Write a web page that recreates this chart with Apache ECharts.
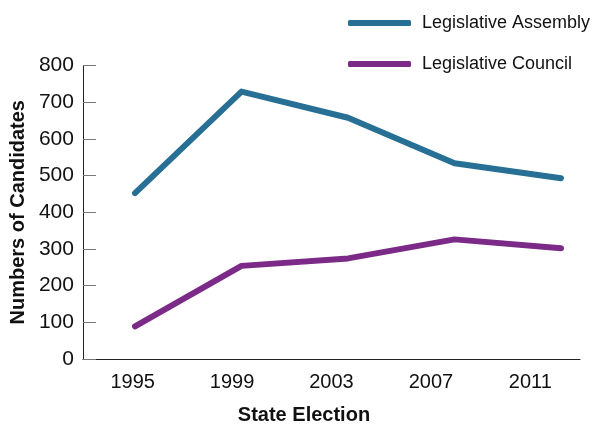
<!DOCTYPE html>
<html>
<head>
<meta charset="utf-8">
<script src="https://cdn.jsdelivr.net/npm/echarts@6/dist/echarts.min.js"></script>
<style>
  html, body { margin: 0; padding: 0; background: #fff; }
  #chart { width: 616px; height: 430px; }
</style>
</head>
<body>
<div id="chart"></div>
<script>
const years = ['1995', '1999', '2003', '2007', '2011']
const assembly = [458, 730, 660, 538, 498]
const council = [101, 263, 283, 334, 310]
const yTicks = { min: 0, max: 800, step: 100 }

const font = 'Liberation Sans, Arial, Helvetica, sans-serif'
const blue = '#276f95'
const purple = '#7c2a88'

const chart = echarts.init(document.getElementById('chart'))

chart.setOption({
  animation: false,
  textStyle: { fontFamily: font },
  legend: {
    orient: 'vertical',
    left: 343,
    top: 8,
    itemWidth: 63,
    itemHeight: 6,
    itemGap: 21,
    icon: 'roundRect',
    textStyle: { fontSize: 18, color: '#111', lineHeight: 20, padding: [0, 0, 0, 6] },
    data: ['Legislative Assembly', 'Legislative Council'],
  },
  grid: [
    // visible axes
    { left: 81, right: 36, top: 65.5, bottom: 66 },
    // line marks sit on their own span, as in the original
    { left: 135, right: 55, top: 65.5, bottom: 66 },
  ],
  xAxis: [
    {
      type: 'category',
      gridIndex: 0,
      data: years,
      boundaryGap: true,
      axisLine: { lineStyle: { color: '#222', width: 1 } },
      axisTick: { inside: true, length: 7, lineStyle: { color: '#444' } },
      axisLabel: { color: '#111', fontSize: 20, margin: 13 },
      name: 'State Election',
      nameLocation: 'middle',
      nameGap: 46,
      nameTextStyle: { fontSize: 20, fontWeight: 'bold', color: '#111', padding: [0, 55, 0, 0] },
    },
    {
      type: 'category',
      gridIndex: 1,
      data: years,
      boundaryGap: false,
      show: false,
    },
  ],
  yAxis: [
    {
      type: 'value',
      gridIndex: 0,
      min: yTicks.min,
      max: yTicks.max,
      interval: yTicks.step,
      splitLine: { show: false },
      axisLine: { show: true, lineStyle: { color: '#222', width: 1 } },
      axisTick: { show: true, inside: true, length: 13, lineStyle: { color: '#777' } },
      axisLabel: { color: '#111', fontSize: 21, margin: 9 },
      name: 'Numbers of Candidates',
      nameLocation: 'middle',
      nameGap: 50,
      nameTextStyle: { fontSize: 20, fontWeight: 'bold', color: '#111' },
    },
    {
      type: 'value',
      gridIndex: 1,
      min: yTicks.min,
      max: yTicks.max,
      show: false,
      splitLine: { show: false },
    },
  ],
  series: [
    {
      name: 'Legislative Assembly',
      type: 'line',
      xAxisIndex: 1,
      yAxisIndex: 1,
      data: assembly,
      showSymbol: false,
      clip: false,
      color: blue,
      lineStyle: { width: 6, color: blue, cap: 'round', join: 'round' },
    },
    {
      name: 'Legislative Council',
      type: 'line',
      xAxisIndex: 1,
      yAxisIndex: 1,
      data: council,
      showSymbol: false,
      clip: false,
      color: purple,
      lineStyle: { width: 6, color: purple, cap: 'round', join: 'round' },
    },
  ],
})
</script>
</body>
</html>
